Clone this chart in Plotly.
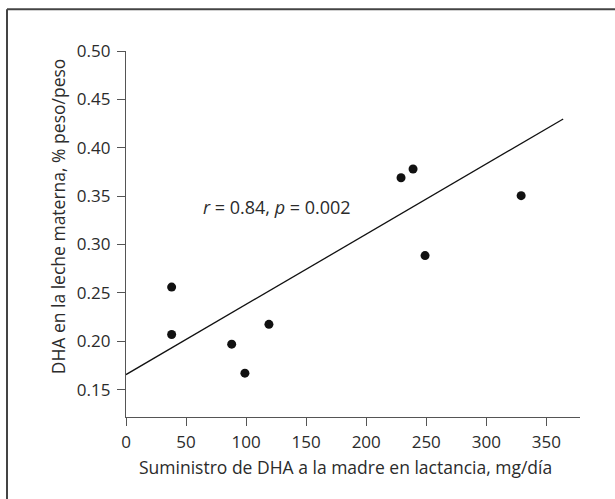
import plotly.graph_objects as go

# Data
dha_supply = [38, 38, 88, 99, 119, 229, 239, 249, 329]          # mg/día
dha_milk = [0.256, 0.207, 0.197, 0.167, 0.2175, 0.369, 0.378, 0.2885, 0.3505]  # % peso/peso
fit_x = [0, 364]
fit_y = [0.1655, 0.4297]

x_ticks = [0, 50, 100, 150, 200, 250, 300, 350]
y_ticks = [0.15, 0.20, 0.25, 0.30, 0.35, 0.40, 0.45, 0.50]
y_tick_labels = ["0.15", "0.20", "0.25", "0.30", "0.35", "0.40", "0.45", "0.50"]

stat_text = "<i>r</i> = 0.84, <i>p</i> = 0.002"
x_title = "Suministro de DHA a la madre en lactancia, mg/día"
y_title = "DHA en la leche materna, % peso/peso"

FONT = "Open Sans"
TXT = "#2b2b2b"
AX = "#555555"

fig = go.Figure()
fig.add_trace(go.Scatter(x=fit_x, y=fit_y, mode="lines",
                         line=dict(color="#111111", width=1.3),
                         showlegend=False, hoverinfo="skip"))
fig.add_trace(go.Scatter(x=dha_supply, y=dha_milk, mode="markers",
                         marker=dict(color="#111111", size=9),
                         showlegend=False))

fig.update_layout(
    width=615, height=499,
    margin=dict(l=126, r=35, t=51, b=82),
    paper_bgcolor="white", plot_bgcolor="white",
    font=dict(family=FONT, size=17, color=TXT),
    xaxis=dict(range=[0, 378], tickvals=x_ticks, showline=True, linecolor=AX,
               linewidth=1.3, ticks="outside", ticklen=8, tickcolor=AX,
               tickwidth=1.3, showgrid=False, zeroline=False,
               ticklabelstandoff=1,
               tickfont=dict(size=17, color=TXT, family=FONT)),
    yaxis=dict(range=[0.1217, 0.50], tickvals=y_ticks, ticktext=y_tick_labels,
               showline=True, linecolor=AX, linewidth=1.3, ticks="outside",
               ticklen=8, tickcolor=AX, tickwidth=1.3, showgrid=False,
               zeroline=False, ticklabelstandoff=3,
               tickfont=dict(size=17, color=TXT, family=FONT)),
)

fig.add_annotation(x=125.8, y=0.339, xref="x", yref="y", text=stat_text,
                   showarrow=False, xanchor="center", yanchor="middle",
                   font=dict(size=18, color=TXT, family=FONT))
fig.add_annotation(x=(345 - 126) / 454, y=-(467 - 416.7) / 366, xref="paper",
                   yref="paper", text=x_title, showarrow=False,
                   xanchor="center", yanchor="middle",
                   font=dict(size=17.5, color=TXT, family=FONT))
fig.add_annotation(x=(58 - 126) / 454, y=1 - (216 - 50.7) / 366, xref="paper",
                   yref="paper", text=y_title, showarrow=False, textangle=-90,
                   xanchor="center", yanchor="middle",
                   font=dict(size=17.5, color=TXT, family=FONT))

# Frame lines (top and left, as in the cropped reference)
lx = (7 - 126) / 454
ty = 1 + (50.7 - 9) / 366
fig.add_shape(type="line", xref="paper", yref="paper", x0=lx, x1=1.2, y0=ty, y1=ty,
              line=dict(color="#444444", width=2))
fig.add_shape(type="line", xref="paper", yref="paper", x0=lx, x1=lx, y0=ty, y1=-0.3,
              line=dict(color="#444444", width=2))

fig.write_html("out.html", config={"displayModeBar": False},
               post_script="document.body.style.margin='0';")
